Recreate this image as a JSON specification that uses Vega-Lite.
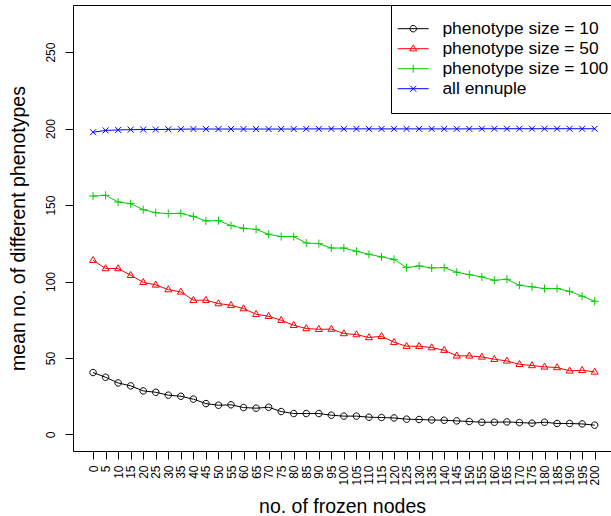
{
  "$schema": "https://vega.github.io/schema/vega-lite/v6.json",
  "width": 538,
  "height": 446,
  "autosize": {"type": "none"},
  "padding": {"left": 73, "top": 5, "right": 0, "bottom": 65},
  "background": "white",
  "config": {
    "font": "Liberation Sans",
    "view": {"stroke": "black", "strokeWidth": 1},
    "axis": {"grid": false, "domain": false, "tickColor": "black", "labelColor": "black", "titleColor": "black", "labelFont": "Liberation Sans", "titleFont": "Liberation Sans", "labelFontSize": 12, "titleFontSize": 19.5, "titleFontWeight": "normal", "tickSize": 8, "labelAngle": 270, "labelFlush": false, "labelOverlap": false}
  },
  "datasets": {
    "pts": [
      {"n":0,"s":"phenotype size = 10","v":40.5},{"n":5,"s":"phenotype size = 10","v":37.4},{"n":10,"s":"phenotype size = 10","v":33.7},{"n":15,"s":"phenotype size = 10","v":31.8},{"n":20,"s":"phenotype size = 10","v":28.5},{"n":25,"s":"phenotype size = 10","v":27.6},{"n":30,"s":"phenotype size = 10","v":25.7},{"n":35,"s":"phenotype size = 10","v":25.0},{"n":40,"s":"phenotype size = 10","v":23.1},{"n":45,"s":"phenotype size = 10","v":20.2},{"n":50,"s":"phenotype size = 10","v":19.1},{"n":55,"s":"phenotype size = 10","v":19.4},{"n":60,"s":"phenotype size = 10","v":17.6},{"n":65,"s":"phenotype size = 10","v":17.2},{"n":70,"s":"phenotype size = 10","v":17.8},{"n":75,"s":"phenotype size = 10","v":15.0},{"n":80,"s":"phenotype size = 10","v":13.7},{"n":85,"s":"phenotype size = 10","v":13.7},{"n":90,"s":"phenotype size = 10","v":13.7},{"n":95,"s":"phenotype size = 10","v":12.6},{"n":100,"s":"phenotype size = 10","v":12.0},{"n":105,"s":"phenotype size = 10","v":12.0},{"n":110,"s":"phenotype size = 10","v":11.3},{"n":115,"s":"phenotype size = 10","v":11.1},{"n":120,"s":"phenotype size = 10","v":10.8},{"n":125,"s":"phenotype size = 10","v":10.0},{"n":130,"s":"phenotype size = 10","v":9.8},{"n":135,"s":"phenotype size = 10","v":9.5},{"n":140,"s":"phenotype size = 10","v":9.3},{"n":145,"s":"phenotype size = 10","v":8.9},{"n":150,"s":"phenotype size = 10","v":8.5},{"n":155,"s":"phenotype size = 10","v":8.0},{"n":160,"s":"phenotype size = 10","v":8.0},{"n":165,"s":"phenotype size = 10","v":8.2},{"n":170,"s":"phenotype size = 10","v":7.8},{"n":175,"s":"phenotype size = 10","v":7.4},{"n":180,"s":"phenotype size = 10","v":8.0},{"n":185,"s":"phenotype size = 10","v":7.2},{"n":190,"s":"phenotype size = 10","v":7.2},{"n":195,"s":"phenotype size = 10","v":6.9},{"n":200,"s":"phenotype size = 10","v":6.1},
      {"n":0,"s":"phenotype size = 50","v":113.9},{"n":5,"s":"phenotype size = 50","v":108.5},{"n":10,"s":"phenotype size = 50","v":108.5},{"n":15,"s":"phenotype size = 50","v":104.1},{"n":20,"s":"phenotype size = 50","v":99.5},{"n":25,"s":"phenotype size = 50","v":97.8},{"n":30,"s":"phenotype size = 50","v":94.7},{"n":35,"s":"phenotype size = 50","v":93.2},{"n":40,"s":"phenotype size = 50","v":87.8},{"n":45,"s":"phenotype size = 50","v":87.8},{"n":50,"s":"phenotype size = 50","v":85.6},{"n":55,"s":"phenotype size = 50","v":84.5},{"n":60,"s":"phenotype size = 50","v":82.3},{"n":65,"s":"phenotype size = 50","v":78.6},{"n":70,"s":"phenotype size = 50","v":77.3},{"n":75,"s":"phenotype size = 50","v":74.7},{"n":80,"s":"phenotype size = 50","v":71.4},{"n":85,"s":"phenotype size = 50","v":69.3},{"n":90,"s":"phenotype size = 50","v":68.8},{"n":95,"s":"phenotype size = 50","v":68.9},{"n":100,"s":"phenotype size = 50","v":66.0},{"n":105,"s":"phenotype size = 50","v":65.3},{"n":110,"s":"phenotype size = 50","v":63.4},{"n":115,"s":"phenotype size = 50","v":64.2},{"n":120,"s":"phenotype size = 50","v":60.3},{"n":125,"s":"phenotype size = 50","v":57.7},{"n":130,"s":"phenotype size = 50","v":57.7},{"n":135,"s":"phenotype size = 50","v":56.8},{"n":140,"s":"phenotype size = 50","v":55.1},{"n":145,"s":"phenotype size = 50","v":51.4},{"n":150,"s":"phenotype size = 50","v":51.4},{"n":155,"s":"phenotype size = 50","v":50.7},{"n":160,"s":"phenotype size = 50","v":49.2},{"n":165,"s":"phenotype size = 50","v":48.1},{"n":170,"s":"phenotype size = 50","v":45.9},{"n":175,"s":"phenotype size = 50","v":45.1},{"n":180,"s":"phenotype size = 50","v":44.2},{"n":185,"s":"phenotype size = 50","v":43.8},{"n":190,"s":"phenotype size = 50","v":41.6},{"n":195,"s":"phenotype size = 50","v":42.0},{"n":200,"s":"phenotype size = 50","v":40.9},
      {"n":0,"s":"phenotype size = 100","v":155.9},{"n":5,"s":"phenotype size = 100","v":156.4},{"n":10,"s":"phenotype size = 100","v":152.0},{"n":15,"s":"phenotype size = 100","v":150.9},{"n":20,"s":"phenotype size = 100","v":147.0},{"n":25,"s":"phenotype size = 100","v":145.0},{"n":30,"s":"phenotype size = 100","v":144.4},{"n":35,"s":"phenotype size = 100","v":144.6},{"n":40,"s":"phenotype size = 100","v":142.6},{"n":45,"s":"phenotype size = 100","v":139.6},{"n":50,"s":"phenotype size = 100","v":139.8},{"n":55,"s":"phenotype size = 100","v":136.6},{"n":60,"s":"phenotype size = 100","v":134.8},{"n":65,"s":"phenotype size = 100","v":134.1},{"n":70,"s":"phenotype size = 100","v":130.9},{"n":75,"s":"phenotype size = 100","v":129.4},{"n":80,"s":"phenotype size = 100","v":129.4},{"n":85,"s":"phenotype size = 100","v":125.2},{"n":90,"s":"phenotype size = 100","v":124.8},{"n":95,"s":"phenotype size = 100","v":121.9},{"n":100,"s":"phenotype size = 100","v":121.9},{"n":105,"s":"phenotype size = 100","v":119.8},{"n":110,"s":"phenotype size = 100","v":117.8},{"n":115,"s":"phenotype size = 100","v":116.1},{"n":120,"s":"phenotype size = 100","v":114.5},{"n":125,"s":"phenotype size = 100","v":109.1},{"n":130,"s":"phenotype size = 100","v":110.2},{"n":135,"s":"phenotype size = 100","v":108.9},{"n":140,"s":"phenotype size = 100","v":109.1},{"n":145,"s":"phenotype size = 100","v":106.1},{"n":150,"s":"phenotype size = 100","v":104.5},{"n":155,"s":"phenotype size = 100","v":103.0},{"n":160,"s":"phenotype size = 100","v":100.8},{"n":165,"s":"phenotype size = 100","v":101.5},{"n":170,"s":"phenotype size = 100","v":97.6},{"n":175,"s":"phenotype size = 100","v":96.5},{"n":180,"s":"phenotype size = 100","v":95.4},{"n":185,"s":"phenotype size = 100","v":95.4},{"n":190,"s":"phenotype size = 100","v":93.6},{"n":195,"s":"phenotype size = 100","v":90.4},{"n":200,"s":"phenotype size = 100","v":87.1},
      {"n":0,"s":"all ennuple","v":197.6},{"n":5,"s":"all ennuple","v":198.8},{"n":10,"s":"all ennuple","v":199.1},{"n":15,"s":"all ennuple","v":199.3},{"n":20,"s":"all ennuple","v":199.4},{"n":25,"s":"all ennuple","v":199.4},{"n":30,"s":"all ennuple","v":199.5},{"n":35,"s":"all ennuple","v":199.6},{"n":40,"s":"all ennuple","v":199.7},{"n":45,"s":"all ennuple","v":199.7},{"n":50,"s":"all ennuple","v":199.7},{"n":55,"s":"all ennuple","v":199.7},{"n":60,"s":"all ennuple","v":199.7},{"n":65,"s":"all ennuple","v":199.7},{"n":70,"s":"all ennuple","v":199.7},{"n":75,"s":"all ennuple","v":199.7},{"n":80,"s":"all ennuple","v":199.7},{"n":85,"s":"all ennuple","v":199.8},{"n":90,"s":"all ennuple","v":199.8},{"n":95,"s":"all ennuple","v":199.8},{"n":100,"s":"all ennuple","v":199.8},{"n":105,"s":"all ennuple","v":199.8},{"n":110,"s":"all ennuple","v":199.8},{"n":115,"s":"all ennuple","v":199.8},{"n":120,"s":"all ennuple","v":199.8},{"n":125,"s":"all ennuple","v":199.8},{"n":130,"s":"all ennuple","v":199.8},{"n":135,"s":"all ennuple","v":199.8},{"n":140,"s":"all ennuple","v":199.8},{"n":145,"s":"all ennuple","v":199.8},{"n":150,"s":"all ennuple","v":199.8},{"n":155,"s":"all ennuple","v":199.9},{"n":160,"s":"all ennuple","v":199.9},{"n":165,"s":"all ennuple","v":199.9},{"n":170,"s":"all ennuple","v":199.9},{"n":175,"s":"all ennuple","v":199.9},{"n":180,"s":"all ennuple","v":199.9},{"n":185,"s":"all ennuple","v":199.9},{"n":190,"s":"all ennuple","v":199.9},{"n":195,"s":"all ennuple","v":199.9},{"n":200,"s":"all ennuple","v":199.9}
    ]
  },
  "data": {"name": "pts"},
  "encoding": {
    "x": {"field": "n", "type": "quantitative", "scale": {"domain": [-8, 206.5], "nice": false, "zero": false},
      "axis": {"title": "no. of frozen nodes", "values": [0,5,10,15,20,25,30,35,40,45,50,55,60,65,70,75,80,85,90,95,100,105,110,115,120,125,130,135,140,145,150,155,160,165,170,175,180,185,190,195,200], "labelPadding": 6, "titlePadding": 12}},
    "y": {"field": "v", "type": "quantitative", "scale": {"domain": [-10.8, 280.8], "nice": false, "zero": false},
      "axis": {"title": "mean no. of different phenotypes", "values": [0,50,100,150,200,250], "labelAlign": "center", "labelBaseline": "bottom", "labelPadding": 7.5, "titlePadding": 16}},
    "color": {"field": "s", "type": "nominal",
      "scale": {"domain": ["phenotype size = 10", "phenotype size = 50", "phenotype size = 100", "all ennuple"], "range": ["#000000", "#FF0000", "#00CD00", "#0000FF"]},
      "legend": {"title": null, "orient": "none", "legendX": 318, "legendY": 0, "strokeColor": "black", "fillColor": "white", "padding": 15, "rowPadding": 1, "labelFont": "Liberation Sans", "labelFontSize": 17.4, "labelColor": "black", "labelOffset": 19, "symbolOffset": 0, "labelLimit": 300, "symbolSize": 256, "symbolStrokeWidth": 1, "symbolFillColor": "transparent",
        "encode": {"symbols": {"update": {
          "shape": {"signal": "datum.value === 'phenotype size = 10' ? 'M-2.125,0H1.75M0.221,0A0.406,0.406,0,1,1,-0.591,0A0.406,0.406,0,1,1,0.221,0' : datum.value === 'phenotype size = 50' ? 'M-2.125,0H1.75M-0.185,-0.475L0.2525,0.275L-0.6225,0.275Z' : datum.value === 'phenotype size = 100' ? 'M-2.125,0H1.75M-0.185,-0.5V0.5' : 'M-2.125,0H1.75M-0.56,-0.375L0.19,0.375M-0.56,0.375L0.19,-0.375'"},
          "size": {"value": 256},
          "fill": {"value": "transparent"},
          "stroke": {"scale": "color", "field": "value"},
          "strokeWidth": {"value": 1},
          "opacity": {"value": 1}
        }}}}
    }
  },
  "layer": [
    {"mark": {"type": "line", "strokeWidth": 1}},
    {"transform": [{"filter": "datum.s === 'phenotype size = 10'"}],
     "mark": {"type": "point", "filled": false, "strokeWidth": 1, "opacity": 1, "size": 64, "shape": "M0.81,0A0.81,0.81,0,1,1,-0.81,0A0.81,0.81,0,1,1,0.81,0"}},
    {"transform": [{"filter": "datum.s === 'phenotype size = 50'"}],
     "mark": {"type": "point", "filled": false, "strokeWidth": 1, "opacity": 1, "size": 64, "shape": "M0,-0.95L0.875,0.55L-0.875,0.55Z"}},
    {"transform": [{"filter": "datum.s === 'phenotype size = 100'"}],
     "mark": {"type": "point", "filled": false, "strokeWidth": 1, "opacity": 1, "size": 64, "shape": "M-1,0H1M0,-1V1"}},
    {"transform": [{"filter": "datum.s === 'all ennuple'"}],
     "mark": {"type": "point", "filled": false, "strokeWidth": 1, "opacity": 1, "size": 64, "shape": "M-0.75,-0.75L0.75,0.75M-0.75,0.75L0.75,-0.75"}}
  ]
}
